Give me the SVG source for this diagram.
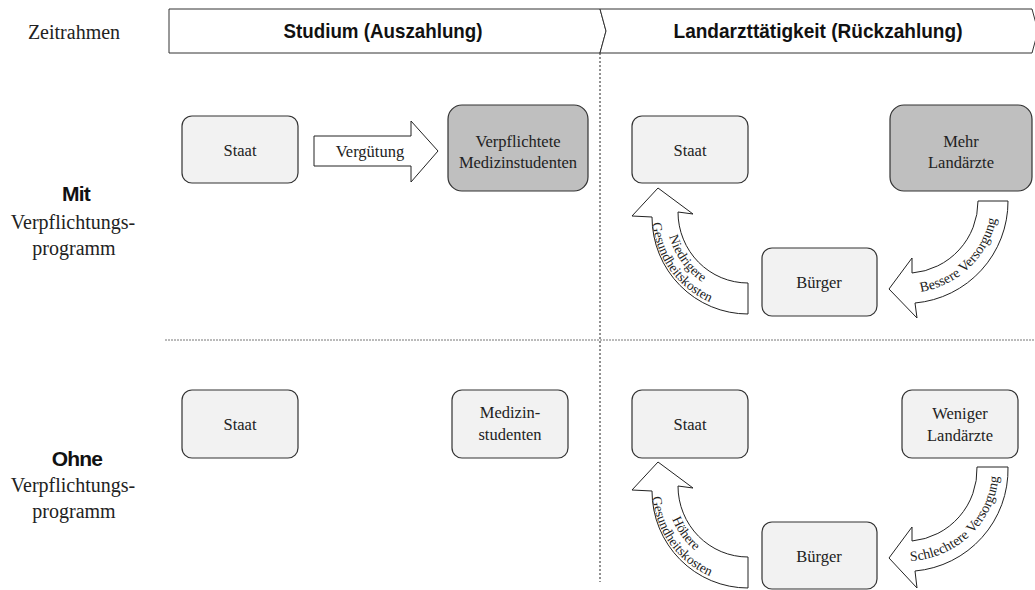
<svg xmlns="http://www.w3.org/2000/svg" width="1035" height="590" viewBox="0 0 1035 590">
<style>
.node{fill:#f2f2f2;stroke:#333;stroke-width:1.2}
.dark{fill:#bfbfbf}
.t{font-family:"Liberation Serif",serif;font-size:16.5px;fill:#222;text-anchor:middle}
.lbl{font-family:"Liberation Serif",serif;font-size:20px;fill:#222;text-anchor:middle}
.b{font-family:"Liberation Sans",Arial,sans-serif;font-weight:bold;fill:#111;text-anchor:middle}
.arrow{fill:#fff;stroke:#222;stroke-width:1}
.ct{font-family:"Liberation Serif",serif;font-size:14px;fill:#222;text-anchor:middle}
.cl{font-family:"Liberation Serif",serif;font-size:13.5px;fill:#222;text-anchor:middle}
.hdr{fill:#fff;stroke:#333;stroke-width:1}
</style>
<defs>
<path id="pNi" d="M666.8 202.6 A82 82 0 0 0 733.8 294.8" fill="none"/>
<path id="pGe" d="M653.0 200.6 A96 96 0 0 0 731.3 308.5" fill="none"/>
<path id="pHo" d="M666.8 476.6 A82 82 0 0 0 733.8 568.8" fill="none"/>
<path id="pGe2" d="M653.0 474.6 A96 96 0 0 0 731.3 582.5" fill="none"/>
<path id="pBe" d="M904.4 293.0 A92 92 0 0 0 998.0 202.6" fill="none"/>
<path id="pSc" d="M904.4 561.0 A93 93 0 0 0 999.0 470.6" fill="none"/>
</defs>

<g id="header">
<text class="lbl" x="74" y="39">Zeitrahmen</text>
<path class="hdr" d="M169 9 L600 9 L606 31 L600 53 L169 53 Z"/>
<path class="hdr" d="M600 9 L1032 9 L1038 31 L1032 53 L600 53 L606 31 Z"/>
<text class="b" x="383" y="38" font-size="21" textLength="199" lengthAdjust="spacingAndGlyphs">Studium (Auszahlung)</text>
<text class="b" x="818" y="38" font-size="21" textLength="289" lengthAdjust="spacingAndGlyphs">Landarzttätigkeit (Rückzahlung)</text>
</g>

<g id="dividers" fill="none">
<line x1="600" y1="53" x2="600" y2="582" stroke="#222" stroke-width="1" stroke-dasharray="2,2"/>
<line x1="165" y1="340" x2="1035" y2="340" stroke="#777" stroke-width="1" stroke-dasharray="2,1"/>
</g>

<g id="rowlabels">
<text class="b" x="76" y="201" font-size="21" letter-spacing="-0.8">Mit</text>
<text class="lbl" x="73" y="229">Verpflichtungs-</text>
<text class="lbl" x="74" y="255">programm</text>
<text class="b" x="77" y="466" font-size="21" letter-spacing="-0.8">Ohne</text>
<text class="lbl" x="73" y="492">Verpflichtungs-</text>
<text class="lbl" x="74" y="518">programm</text>
</g>

<g id="connectors">
<g id="verguetung">
<path class="arrow" d="M314 136 L411 136 L411 121 L438 151 L411 182 L411 166 L314 166 Z"/>
<text class="t" x="370" y="157" font-size="15.5">Vergütung</text>
</g>
<g id="niedrigere">
<path class="arrow" d="M748 314 A96 97 0 0 1 652 217 L632 216 L658 188 L693 214 L678 212 A70 71 0 0 0 748 283 Z"/>
<text class="cl"><textPath href="#pNi" startOffset="50%">Niedrigere</textPath></text>
<text class="cl"><textPath href="#pGe" startOffset="50%">Gesundheitskosten</textPath></text>
</g>
<g id="bessere">
<path class="arrow" d="M978 201 L1008 201 A102 102 0 0 1 915 303 L917 318 L889 289 L912 258 L912 273 A72 72 0 0 0 978 201 Z"/>
<text class="ct"><textPath href="#pBe" startOffset="50%">Bessere Versorgung</textPath></text>
</g>
<g id="hoehere">
<path class="arrow" d="M748 588 A96 97 0 0 1 652 491 L632 490 L658 462 L693 488 L678 486 A70 71 0 0 0 748 557 Z"/>
<text class="cl"><textPath href="#pHo" startOffset="50%">Höhere</textPath></text>
<text class="cl"><textPath href="#pGe2" startOffset="50%">Gesundheitskosten</textPath></text>
</g>
<g id="schlechtere">
<path class="arrow" d="M977 467 L1008 467 A102 102 0 0 1 915 571 L917 588 L889 558 L912 527 L912 541 A72 72 0 0 0 977 467 Z"/>
<text class="ct" font-size="13"><textPath href="#pSc" startOffset="50%">Schlechtere Versorgung</textPath></text>
</g>
</g>

<g id="n-staat1"><rect class="node" x="182" y="116" width="116" height="67" rx="10"/><text class="t" x="240" y="156">Staat</text></g>
<g id="n-verpfl"><rect class="node dark" x="448" y="105" width="140" height="86" rx="14"/><text class="t" x="518" y="147">Verpflichtete</text><text class="t" x="518" y="168">Medizinstudenten</text></g>
<g id="n-staat2"><rect class="node" x="632" y="116" width="116" height="67" rx="10"/><text class="t" x="690" y="156">Staat</text></g>
<g id="n-mehr"><rect class="node dark" x="890" y="105" width="142" height="86" rx="14"/><text class="t" x="961" y="147">Mehr</text><text class="t" x="961" y="168">Landärzte</text></g>
<g id="n-buerger1"><rect class="node" x="762" y="248" width="115" height="68" rx="10"/><text class="t" x="819" y="288">Bürger</text></g>

<g id="n-staat3"><rect class="node" x="182" y="390" width="116" height="68" rx="10"/><text class="t" x="240" y="430">Staat</text></g>
<g id="n-medizin"><rect class="node" x="452" y="390" width="116" height="68" rx="10"/><text class="t" x="510" y="418">Medizin-</text><text class="t" x="510" y="440">studenten</text></g>
<g id="n-staat4"><rect class="node" x="632" y="390" width="116" height="68" rx="10"/><text class="t" x="690" y="430">Staat</text></g>
<g id="n-weniger"><rect class="node" x="902" y="390" width="116" height="68" rx="10"/><text class="t" x="960" y="419">Weniger</text><text class="t" x="960" y="441">Landärzte</text></g>
<g id="n-buerger2"><rect class="node" x="762" y="522" width="115" height="67" rx="10"/><text class="t" x="819" y="562">Bürger</text></g>
</svg>
